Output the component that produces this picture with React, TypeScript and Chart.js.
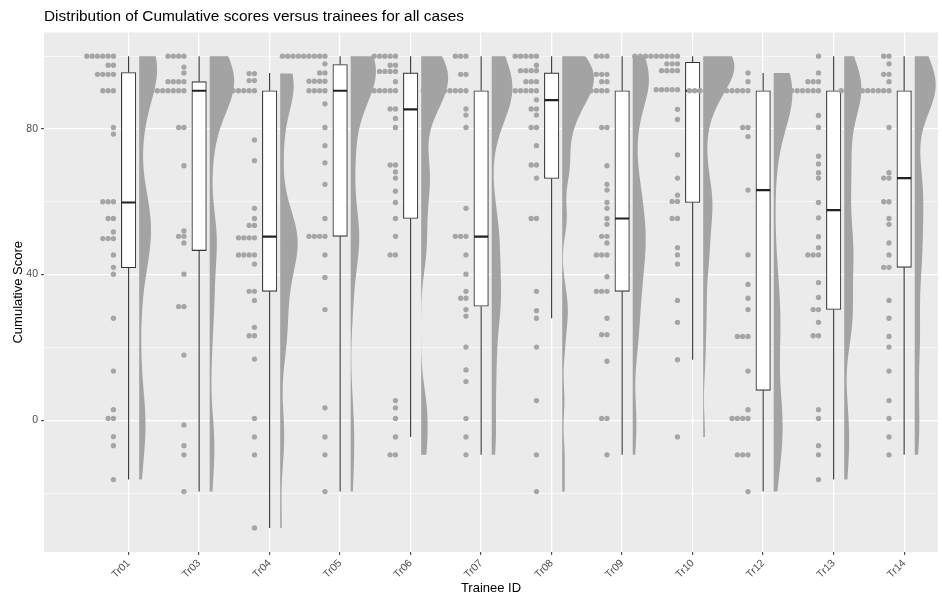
import React, { useEffect, useRef } from 'react';
import { Chart, registerables } from 'chart.js';

Chart.register(...registerables);

// ---------------- data ----------------
const trainees = ['Tr01', 'Tr03', 'Tr04', 'Tr05', 'Tr06', 'Tr07', 'Tr08', 'Tr09', 'Tr10', 'Tr12', 'Tr13', 'Tr14'];

// [score, number of cases with that score]
const scoresTr01: [number, number][] = [[100, 6], [97.5, 2], [95, 4], [90.5, 3], [80.4, 1], [78.6, 1], [60, 3], [55.4, 2], [51.7, 1], [49.9, 3], [45.4, 1], [42, 1], [40.1, 1], [28, 1], [13.5, 1], [2.9, 1], [0.5, 2], [-4.5, 1], [-7, 1], [-16.3, 1]];
const scoresTr03: [number, number][] = [[100, 4], [97, 1], [95.4, 1], [93, 4], [90.5, 7], [80.4, 2], [69.9, 1], [52, 1], [50.5, 2], [48.7, 1], [40.1, 1], [31.2, 2], [17.9, 1], [-1.3, 1], [-7, 1], [-9.5, 1], [-19.6, 1]];
const scoresTr04: [number, number][] = [[95.2, 2], [93.3, 2], [90.5, 5], [77, 1], [71.3, 1], [58.2, 1], [55.4, 1], [53.5, 2], [50.1, 4], [45.4, 4], [42.9, 1], [35.4, 2], [32.9, 1], [25.5, 1], [23.2, 2], [16.8, 1], [0.5, 1], [-4.6, 1], [-9.5, 1], [-29.6, 1]];
const scoresTr05: [number, number][] = [[100, 9], [97.9, 1], [95.4, 2], [93.1, 4], [90.5, 4], [86.9, 1], [80.4, 1], [75.4, 1], [70.7, 1], [64.8, 1], [55.4, 1], [50.5, 4], [45.4, 1], [39.2, 1], [30.4, 1], [3.4, 1], [-4.6, 1], [-9.5, 1], [-19.6, 1]];
const scoresTr06: [number, number][] = [[100, 5], [97.5, 2], [95.8, 4], [93, 1], [90.5, 7], [85.5, 2], [82.9, 1], [80.4, 1], [70.1, 2], [68.2, 1], [66.5, 1], [62.9, 1], [59.8, 1], [55.4, 1], [50.5, 1], [45.4, 2], [5.4, 1], [3.4, 1], [0.5, 1], [-4.6, 1], [-9.5, 2]];
const scoresTr07: [number, number][] = [[100, 3], [95, 2], [90.5, 9], [85.5, 1], [83.8, 1], [80.4, 1], [58.2, 1], [50.5, 3], [45.4, 1], [40.1, 1], [35.4, 1], [33.5, 2], [30.4, 1], [28.6, 1], [20.1, 1], [13.8, 1], [10.6, 1], [0.5, 1], [-4.6, 1], [-9.5, 1]];
const scoresTr08: [number, number][] = [[100, 5], [97.5, 1], [96, 4], [93, 3], [90.5, 5], [88, 1], [85.5, 2], [83.8, 1], [80.4, 2], [75.4, 1], [70.1, 2], [66.5, 1], [55.4, 2], [35.4, 1], [30.1, 1], [28, 1], [20.1, 1], [5.4, 1], [-9.5, 1], [-19.6, 1]];
const scoresTr09: [number, number][] = [[100, 3], [95, 3], [93, 2], [90.5, 4], [80.4, 2], [69.9, 1], [64.8, 1], [63.2, 1], [59.8, 1], [58.2, 1], [55.4, 1], [53.8, 1], [50.5, 2], [48.7, 1], [45.4, 3], [39.4, 1], [35.4, 3], [28, 1], [23.5, 2], [16.2, 1], [0.5, 2], [-9.5, 1]];
const scoresTr10: [number, number][] = [[100, 9], [97.9, 3], [96, 4], [90.8, 5], [85.4, 1], [82.6, 1], [72.9, 1], [66.5, 1], [61.8, 1], [60.1, 2], [55.4, 2], [47.4, 1], [45.4, 1], [42.9, 1], [32.9, 1], [26.9, 1], [16.6, 1], [-4.6, 1]];
const scoresTr12: [number, number][] = [[95.4, 1], [93, 1], [90.5, 12], [80.4, 2], [77.9, 1], [63.2, 1], [45.4, 1], [37.3, 1], [33.5, 1], [30.4, 1], [23, 3], [13.5, 1], [2.9, 1], [0.5, 4], [-9.5, 3], [-19.6, 1]];
const scoresTr13: [number, number][] = [[100, 1], [95.4, 1], [93, 3], [90.5, 7], [83.7, 1], [80.4, 1], [72.5, 1], [70.4, 1], [68, 1], [66.5, 1], [59.8, 1], [55.6, 1], [50.4, 1], [47.4, 1], [45.4, 3], [37.8, 1], [33.7, 1], [30.4, 2], [26.9, 1], [23.2, 2], [2.9, 1], [0.5, 1], [-7, 1], [-9.5, 1], [-16.3, 1]];
const scoresTr14: [number, number][] = [[100, 2], [97.9, 1], [95, 2], [93, 1], [90.5, 10], [80.4, 1], [68, 1], [66.5, 2], [60, 2], [55.4, 1], [53.8, 1], [48.7, 1], [45.4, 1], [42, 2], [32.9, 1], [28, 1], [23, 1], [20.1, 1], [13.5, 1], [5.4, 1], [0.5, 1], [-4.6, 1], [-9.5, 1]];

const scoreRows = [scoresTr01, scoresTr03, scoresTr04, scoresTr05, scoresTr06, scoresTr07, scoresTr08, scoresTr09, scoresTr10, scoresTr12, scoresTr13, scoresTr14];

// boxplot statistics
const boxLow = [-16.3, -19.6, -29.6, -19.6, -4.6, -9.5, 28, -9.5, 16.6, -19.6, -16.3, -9.5];
const boxQ1 = [41.9, 46.6, 35.4, 50.5, 55.4, 31.3, 66.4, 35.4, 59.8, 8.2, 30.4, 42];
const boxMedian = [59.8, 90.5, 50.4, 90.5, 85.4, 50.4, 87.9, 55.4, 90.5, 63.2, 57.7, 66.5];
const boxQ3 = [95.5, 93, 90.5, 97.7, 95.4, 90.5, 95.4, 90.5, 98.3, 90.5, 90.5, 90.5];
const boxHigh = [100, 100, 95.4, 100, 100, 100, 100, 100, 100, 95.4, 100, 100];

const yTicks = [-20, 0, 20, 40, 60, 80, 100];
const yLabelled = [0, 40, 80];

// ---------------- style constants ----------------
const FONT = "'Liberation Sans', Arial, Helvetica, sans-serif";
const DOT_COLOR = '#a5a5a5';
const VIOLIN_COLOR = '#a3a3a3';
const LINE_COLOR = '#333333';
const DOT_NUDGE = 0.215;
const DOT_STEP = 0.0755;
const BOX_HALF = 0.1;
const VIOLIN_NUDGE = 0.15;
const VIOLIN_HALF = 0.45;
const BW_ADJUST = 0.5;

// ---------------- statistics (ydensity, like ggplot) ----------------
function expand(rows: [number, number][]): number[] {
  const out: number[] = [];
  rows.forEach(([v, c]) => {
    for (let k = 0; k < c; k++) out.push(v);
  });
  return out.sort((a, b) => a - b);
}
function q7(s: number[], p: number): number {
  const h = (s.length - 1) * p;
  const lo = Math.floor(h);
  const hi = Math.min(lo + 1, s.length - 1);
  return s[lo] + (h - lo) * (s[hi] - s[lo]);
}
function bwNrd0(s: number[]): number {
  const n = s.length;
  const mean = s.reduce((a, b) => a + b, 0) / n;
  const sd = Math.sqrt(s.reduce((a, b) => a + (b - mean) * (b - mean), 0) / (n - 1));
  const iqr = q7(s, 0.75) - q7(s, 0.25);
  const lo = Math.min(sd, iqr / 1.34) || sd || 1;
  return 0.9 * lo * Math.pow(n, -0.2);
}
function kde(s: number[], bw: number, y: number): number {
  let sum = 0;
  for (const x of s) {
    const z = (y - x) / bw;
    sum += Math.exp(-0.5 * z * z);
  }
  return sum / (s.length * bw * Math.sqrt(2 * Math.PI));
}

const GRID_N = 256;
const densities = scoreRows.map((rows) => {
  const s = expand(rows);
  const bw = bwNrd0(s) * BW_ADJUST;
  const lo = s[0];
  const hi = s[s.length - 1];
  const ys: number[] = [];
  const ds: number[] = [];
  for (let j = 0; j < GRID_N; j++) {
    const y = lo + ((hi - lo) * j) / (GRID_N - 1);
    ys.push(y);
    ds.push(kde(s, bw, y));
  }
  return { ys, ds, lo, hi };
});
const densityMax = Math.max(...densities.flatMap((d) => d.ds));

export default function App() {
  const canvasRef = useRef<HTMLCanvasElement | null>(null);

  useEffect(() => {
    if (!canvasRef.current) return;

    const violinSets = densities.map((d, i) => {
      const base = i + 1 + VIOLIN_NUDGE;
      const pts = d.ys.map((y, j) => ({ x: base + (VIOLIN_HALF * d.ds[j]) / densityMax, y }));
      pts.push({ x: base, y: d.hi });
      pts.push({ x: base, y: d.lo });
      return {
        type: 'line' as const,
        data: pts,
        violin: true,
        borderColor: 'rgba(0,0,0,0)',
        borderWidth: 0,
        backgroundColor: VIOLIN_COLOR,
        fill: false,
        pointRadius: 0,
        tension: 0,
        order: 0,
      };
    });

    const dotData: { x: number; y: number }[] = [];
    scoreRows.forEach((rows, i) => {
      rows.forEach(([v, c]) => {
        for (let k = 0; k < c; k++) dotData.push({ x: i + 1 - DOT_NUDGE - k * DOT_STEP, y: v });
      });
    });

    const whiskerData: { x: number; y: number | null }[] = [];
    const medianData: { x: number; y: number | null }[] = [];
    trainees.forEach((_, i) => {
      const x = i + 1;
      whiskerData.push({ x, y: boxHigh[i] }, { x, y: boxQ3[i] }, { x, y: null });
      whiskerData.push({ x, y: boxQ1[i] }, { x, y: boxLow[i] }, { x, y: null });
      medianData.push({ x: x - BOX_HALF, y: boxMedian[i] }, { x: x + BOX_HALF, y: boxMedian[i] }, { x, y: null });
    });
    const boxData = trainees.map((_, i) => ({ x: i + 1, y: [boxQ1[i], boxQ3[i]] }));

    const panelBg = {
      id: 'panelBg',
      beforeDraw(chart: any) {
        const { ctx, chartArea } = chart;
        ctx.save();
        ctx.fillStyle = '#ebebeb';
        ctx.fillRect(chartArea.left, chartArea.top, chartArea.right - chartArea.left, chartArea.bottom - chartArea.top);
        ctx.restore();
      },
    };

    // fills each violin outline (points already placed by the scales) as one polygon
    const violinFill = {
      id: 'violinFill',
      afterDatasetDraw(chart: any, args: any) {
        const ds = chart.data.datasets[args.index];
        if (!ds || !ds.violin) return;
        const pts = args.meta.data;
        if (!pts.length) return;
        const { ctx, chartArea } = chart;
        ctx.save();
        ctx.beginPath();
        ctx.rect(chartArea.left, chartArea.top, chartArea.right - chartArea.left, chartArea.bottom - chartArea.top);
        ctx.clip();
        ctx.beginPath();
        ctx.moveTo(pts[0].x, pts[0].y);
        for (let k = 1; k < pts.length; k++) ctx.lineTo(pts[k].x, pts[k].y);
        ctx.closePath();
        ctx.fillStyle = ds.backgroundColor;
        ctx.fill();
        ctx.restore();
      },
    };

    const chart = new Chart(canvasRef.current, {
      type: 'scatter',
      data: {
        datasets: [
          ...violinSets,
          {
            type: 'scatter',
            data: dotData,
            pointRadius: 2.65,
            pointBackgroundColor: DOT_COLOR,
            pointBorderWidth: 0,
            showLine: false,
            order: 1,
          },
          {
            type: 'line',
            data: medianData,
            borderColor: '#222222',
            borderWidth: 2.2,
            pointRadius: 0,
            spanGaps: false,
            fill: false,
            order: 2,
          },
          {
            type: 'bar',
            data: boxData,
            backgroundColor: '#ffffff',
            borderColor: LINE_COLOR,
            borderWidth: 1.1,
            borderSkipped: false,
            barThickness: 14.5,
            order: 3,
          },
          {
            type: 'line',
            data: whiskerData,
            borderColor: LINE_COLOR,
            borderWidth: 1.1,
            pointRadius: 0,
            spanGaps: false,
            fill: false,
            order: 4,
          },
        ] as any,
      },
      options: {
        animation: false,
        responsive: false,
        devicePixelRatio: 1,
        events: [],
        layout: { padding: { left: 0, right: 2, top: 0, bottom: 0 } },
        plugins: {
          legend: { display: false },
          tooltip: { enabled: false },
          title: {
            display: true,
            text: 'Distribution of Cumulative scores versus trainees for all cases',
            align: 'start',
            fullSize: false,
            color: '#000000',
            font: { family: FONT, size: 15.4, weight: 'normal' },
            padding: { top: 8, bottom: 6 },
          },
        },
        scales: {
          x: {
            type: 'linear',
            min: -0.2,
            max: 12.48,
            offset: false,
            afterBuildTicks: (scale: any) => {
              scale.ticks = trainees.map((_, i) => ({ value: i + 1 }));
            },
            afterFit: (scale: any) => {
              scale.height = 44;
            },
            ticks: {
              autoSkip: false,
              minRotation: 45,
              maxRotation: 45,
              padding: 2,
              color: '#4d4d4d',
              font: { family: FONT, size: 10.5 },
              callback: (v: any) => trainees[Math.round(Number(v)) - 1] ?? '',
            },
            grid: {
              color: '#ffffff',
              lineWidth: 1.3,
              tickColor: LINE_COLOR,
              tickWidth: 1,
              tickLength: 3,
              offset: false,
            },
            border: { display: false },
            title: {
              display: true,
              text: 'Trainee ID',
              color: '#000000',
              font: { family: FONT, size: 13 },
              padding: { top: 0, bottom: 0 },
            },
          },
          y: {
            type: 'linear',
            min: -36.2,
            max: 106.5,
            afterBuildTicks: (scale: any) => {
              scale.ticks = yTicks.map((v) => ({ value: v }));
            },
            afterFit: (scale: any) => {
              scale.width = 44;
            },
            ticks: {
              padding: 3,
              color: '#4d4d4d',
              font: { family: FONT, size: 10.5 },
              callback: (v: any) => (yLabelled.includes(Number(v)) ? String(v) : ''),
            },
            grid: {
              color: '#ffffff',
              lineWidth: (ctx: any) => (ctx.tick && yLabelled.includes(ctx.tick.value) ? 1.3 : 0.6),
              tickColor: (ctx: any) => (ctx.tick && yLabelled.includes(ctx.tick.value) ? LINE_COLOR : 'rgba(0,0,0,0)'),
              tickWidth: 1,
              tickLength: 3,
            },
            border: { display: false },
            title: {
              display: true,
              text: 'Cumulative Score',
              color: '#000000',
              font: { family: FONT, size: 13 },
              padding: { top: 11, bottom: 0 },
            },
          },
        },
      } as any,
      plugins: [panelBg, violinFill],
    });

    return () => chart.destroy();
  }, []);

  return (
    <div style={{ position: 'fixed', left: 0, top: 0, width: 942, height: 596, background: '#ffffff' }}>
      <canvas ref={canvasRef} width={942} height={596} style={{ display: 'block', width: 942, height: 596 }} />
    </div>
  );
}
